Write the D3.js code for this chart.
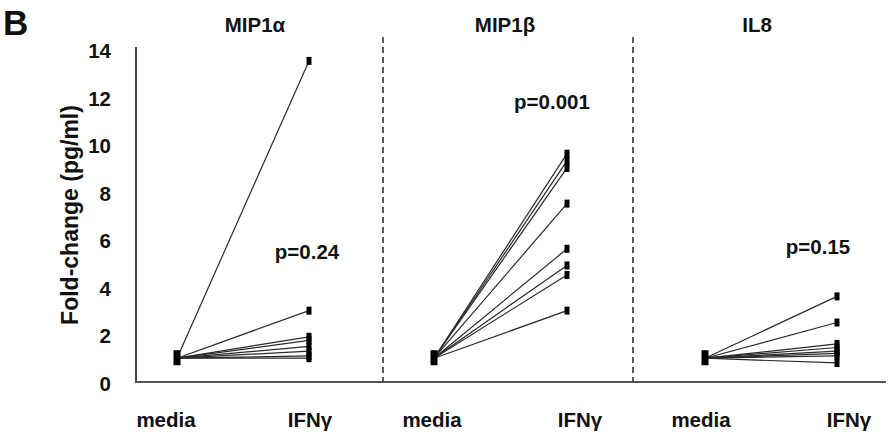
<!DOCTYPE html>
<html><head><meta charset="utf-8">
<script src="https://cdn.jsdelivr.net/npm/d3@7"></script>
<style>body{margin:0;background:#fff}svg{display:block}text{font-family:"Liberation Sans",Arial,sans-serif;font-weight:bold}</style>
</head><body><svg id="c" width="889" height="439"></svg>
<script>
const panels = ["MIP1α", "MIP1β", "IL8"];
const conditions = ["media", "IFNγ"];
const pLabels = ["p=0.24", "p=0.001", "p=0.15"];
const yTicks = [0, 2, 4, 6, 8, 10, 12, 14];
const mediaValue = 1.0;
const mip1aIfn = [13.5, 3.0, 1.9, 1.75, 1.5, 1.3, 1.1, 1.0];
const mip1bIfn = [9.6, 9.3, 9.0, 7.5, 5.6, 4.9, 4.5, 3.0];
const il8Ifn = [3.6, 2.5, 1.6, 1.45, 1.3, 1.2, 1.1, 0.8];
const pValueY = [5.17, 11.48, 5.38];

const series = [mip1aIfn, mip1bIfn, il8Ifn];

const svg = d3.select("#c");
const y = d3.scaleLinear().domain([0, 14]).range([382, 49]);
const axisX0 = 136, axisX1 = 886;
const pointRanges = [[177, 309], [434, 567], [705, 837]];
const labelRanges = [[166, 310], [432, 580], [701, 849]];
const titleX = [255, 505, 757];
const pX = [307, 552, 818];
const dividerX = [383, 633];
const FS = 20.5;

svg.append("text").attr("x", 3).attr("y", 35).attr("font-size", 35).attr("fill", "#111").text("B");

svg.append("line").attr("x1", axisX0).attr("x2", axisX0).attr("y1", 47).attr("y2", y(0))
  .attr("stroke", "#444").attr("stroke-width", 2);
svg.append("line").attr("x1", axisX0 - 1).attr("x2", axisX1).attr("y1", y(0)).attr("y2", y(0))
  .attr("stroke", "#555").attr("stroke-width", 2);

const yAxis = d3.axisLeft(y).tickValues(yTicks).tickSize(0).tickPadding(0);
const ya = svg.append("g").attr("transform", "translate(111,2)").call(yAxis);
ya.select(".domain").remove();
ya.selectAll("text").attr("font-size", FS).attr("fill", "#111")
  .attr("font-family", "Liberation Sans, Arial, sans-serif").attr("font-weight", "bold");

svg.append("text").attr("transform", "translate(78,215) rotate(-90)")
  .attr("text-anchor", "middle").attr("font-size", 23).attr("fill", "#111")
  .text("Fold-change (pg/ml)");

dividerX.forEach(x => {
  svg.append("line").attr("x1", x).attr("x2", x).attr("y1", 37).attr("y2", y(0))
    .attr("stroke", "#333").attr("stroke-width", 1.6).attr("stroke-dasharray", "6,4");
});

panels.forEach((p, i) => {
  const x = d3.scalePoint().domain(conditions).range(pointRanges[i]);
  const xl = d3.scalePoint().domain(conditions).range(labelRanges[i]);
  svg.append("text").attr("x", titleX[i]).attr("y", 32).attr("text-anchor", "middle")
    .attr("font-size", FS).attr("fill", "#111").text(p);

  const g = svg.append("g");
  const vals = series[i];
  g.selectAll("line.d").data(vals).join("line")
    .attr("x1", x("media")).attr("y1", y(mediaValue))
    .attr("x2", x("IFNγ")).attr("y2", d => y(d))
    .attr("stroke", "#2a2a2a").attr("stroke-width", 1.2);
  g.selectAll("rect.m").data(vals).join("rect")
    .attr("x", x("IFNγ") - 2.5).attr("y", d => y(d) - 4)
    .attr("width", 5).attr("height", 8).attr("fill", "#000");
  g.append("rect").attr("x", x("media") - 3.5).attr("y", y(mediaValue) - 8)
    .attr("width", 7).attr("height", 15).attr("fill", "#000");

  svg.append("text").attr("x", pX[i]).attr("y", y(pValueY[i]))
    .attr("text-anchor", "middle").attr("font-size", FS).attr("fill", "#111").text(pLabels[i]);

  conditions.forEach(c => {
    svg.append("text").attr("x", xl(c)).attr("y", 427).attr("text-anchor", "middle")
      .attr("font-size", FS).attr("fill", "#111").text(c);
  });
});
</script></body></html>
